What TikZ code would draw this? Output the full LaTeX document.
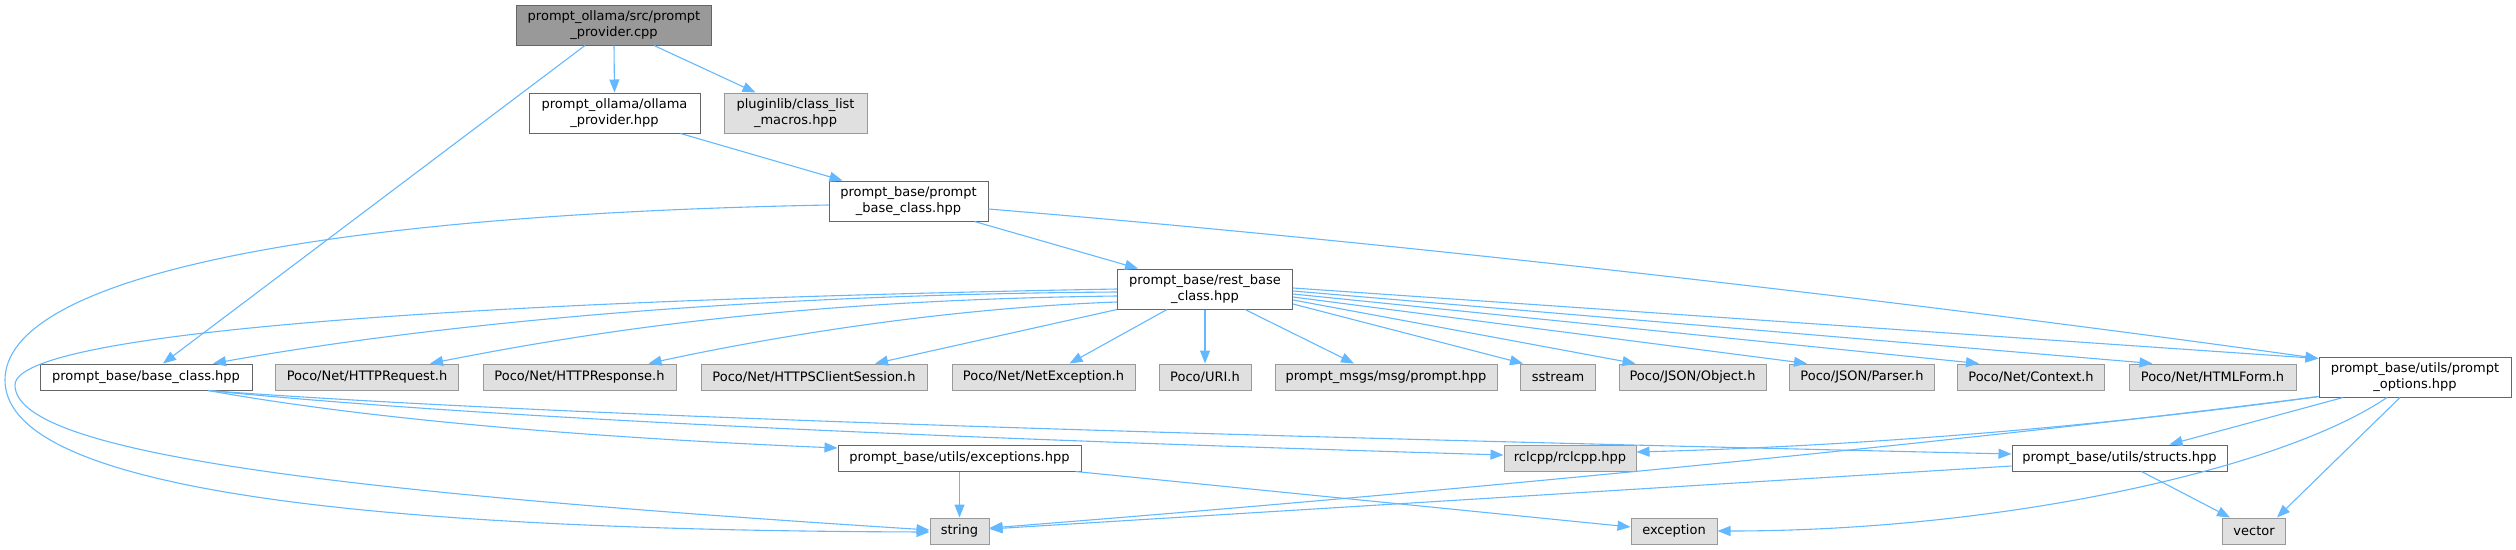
\documentclass[tikz,border=0pt]{standalone}
\usepackage{fontspec}
\setmainfont{DejaVu Sans}
\usetikzlibrary{arrows.meta}
\definecolor{edgecol}{HTML}{63B8FF}
\definecolor{grayfill}{HTML}{E0E0E0}
\definecolor{graybd}{HTML}{999999}
\definecolor{darkbd}{HTML}{666666}
\definecolor{topfill}{HTML}{999999}
\tikzset{
  box/.style={draw=darkbd, fill=white, line width=1pt, inner sep=0pt, align=center,
    font=\fontsize{13}{16}\selectfont, text=black},
  sys/.style={box, draw=graybd, fill=grayfill},
  root/.style={box, fill=topfill},
  edge/.style={draw=edgecol, line width=1.1pt, -{Triangle[length=13pt,width=10pt]}}
}
\begin{document}
\begin{tikzpicture}[x=1pt,y=-1pt]
\useasboundingbox (0,0) rectangle (2516,549);
% nodes
\node[root, minimum width=195pt, minimum height=40pt] (top) at (614,25) {prompt\_ollama/src/prompt\\\_provider.cpp};
\node[box, minimum width=171pt, minimum height=40pt] (oll) at (614.5,113) {prompt\_ollama/ollama\\\_provider.hpp};
\node[sys, minimum width=143pt, minimum height=40pt] (plug) at (795.5,113) {pluginlib/class\_list\\\_macros.hpp};
\node[box, minimum width=159pt, minimum height=40pt] (pbc) at (908.5,201) {prompt\_base/prompt\\\_base\_class.hpp};
\node[box, minimum width=175pt, minimum height=40pt] (rbc) at (1205,289) {prompt\_base/rest\_base\\\_class.hpp};
\node[box, minimum width=212pt, minimum height=26pt] (bch) at (146,377) {prompt\_base/base\_class.hpp};
\node[sys, minimum width=183pt, minimum height=26pt] (req) at (367,377) {Poco/Net/HTTPRequest.h};
\node[sys, minimum width=193pt, minimum height=26pt] (resp) at (579.5,377) {Poco/Net/HTTPResponse.h};
\node[sys, minimum width=226pt, minimum height=26pt] (https) at (814,377) {Poco/Net/HTTPSClientSession.h};
\node[sys, minimum width=183pt, minimum height=26pt] (netex) at (1043.5,377) {Poco/Net/NetException.h};
\node[sys, minimum width=92pt, minimum height=26pt] (uri) at (1205,377) {Poco/URI.h};
\node[sys, minimum width=222pt, minimum height=26pt] (msg) at (1386,377) {prompt\_msgs/msg/prompt.hpp};
\node[sys, minimum width=75pt, minimum height=26pt] (sstream) at (1558,377) {sstream};
\node[sys, minimum width=147pt, minimum height=26pt] (obj) at (1692.5,377) {Poco/JSON/Object.h};
\node[sys, minimum width=145pt, minimum height=26pt] (parser) at (1862,377) {Poco/JSON/Parser.h};
\node[sys, minimum width=147pt, minimum height=26pt] (ctx) at (2031,377) {Poco/Net/Context.h};
\node[sys, minimum width=167pt, minimum height=26pt] (form) at (2212.5,377) {Poco/Net/HTMLForm.h};
\node[box, minimum width=192pt, minimum height=40pt] (opt) at (2415,377) {prompt\_base/utils/prompt\\\_options.hpp};
\node[box, minimum width=243pt, minimum height=26pt] (exc) at (959.5,458) {prompt\_base/utils/exceptions.hpp};
\node[sys, minimum width=132pt, minimum height=26pt] (rcl) at (1570,458) {rclcpp/rclcpp.hpp};
\node[box, minimum width=215pt, minimum height=26pt] (str) at (2119.5,458) {prompt\_base/utils/structs.hpp};
\node[sys, minimum width=59pt, minimum height=26pt] (string) at (959.5,531) {string};
\node[sys, minimum width=86pt, minimum height=26pt] (exception) at (1674,531) {exception};
\node[sys, minimum width=63pt, minimum height=26pt] (vector) at (2254,531) {vector};
% edges
\draw[edge] (top.south) -- (oll.north);
\draw[edge] ([xshift=40pt]top.south) -- ([xshift=-40pt]plug.north);
\draw[edge] ([xshift=-29pt]top.south) -- ([xshift=17pt]bch.north);
\draw[edge] ([xshift=66pt]oll.south) -- ([xshift=-66pt]pbc.north);
\draw[edge] ([xshift=66pt]pbc.south) -- ([xshift=-67pt]rbc.north);
\draw[edge] ([yshift=-8pt]pbc.east) .. controls (1400,243) and (1900,300) .. ([yshift=-2pt]opt.north west);
\draw[edge] ([yshift=-4pt]pbc.west) .. controls (300,215) and (5,280) .. (5,380) .. controls (5,480) and (300,530) .. ([yshift=-1pt]string.west);
\draw[edge] (rbc.west) .. controls (500,300) and (15,330) .. (15,385) .. controls (15,450) and (300,490) .. ([yshift=1pt]string.west);
\draw[edge] ([yshift=-3pt]rbc.west) .. controls (700,295) and (400,330) .. ([xshift=67pt]bch.north);
\draw[edge] ([yshift=-7pt]rbc.west) .. controls (800,300) and (600,330) .. ([xshift=63pt]req.north);
\draw[edge] ([yshift=-13pt]rbc.west) .. controls (950,308) and (780,335) .. ([xshift=69pt]resp.north);
\draw[edge] (rbc.south west) -- ([xshift=61pt]https.north);
\draw[edge] ([xshift=-38pt]rbc.south) -- ([xshift=26pt]netex.north);
\draw[edge] (rbc.south) -- (uri.north);
\draw[edge] ([xshift=40pt]rbc.south) -- ([xshift=-32pt]msg.north);
\draw[edge] ([yshift=-15pt]rbc.east) -- ([xshift=-35pt]sstream.north);
\draw[edge] ([yshift=-11pt]rbc.east) -- ([xshift=-57pt]obj.north);
\draw[edge] ([yshift=-8pt]rbc.east) -- ([xshift=-55pt]parser.north);
\draw[edge] ([yshift=-5pt]rbc.east) -- ([xshift=-52pt]ctx.north);
\draw[edge] ([yshift=-2pt]rbc.east) -- ([xshift=-60pt]form.north);
\draw[edge] ([yshift=1pt]rbc.east) -- ([yshift=-2pt]opt.north west);
\draw[edge] ([xshift=62pt]bch.south) .. controls (400,425) and (650,440) .. ([yshift=10pt]exc.west);
\draw[edge] ([xshift=62pt]bch.south) .. controls (500,420) and (1000,440) .. ([yshift=3pt]rcl.west);
\draw[edge] ([xshift=62pt]bch.south) .. controls (600,420) and (1400,440) .. ([yshift=4pt]str.west);
\draw[edge] ([yshift=1pt]opt.south west) .. controls (2150,420) and (1900,445) .. ([yshift=6pt]rcl.east);
\draw[edge] ([yshift=1pt]opt.south west) .. controls (2100,425) and (1600,480) .. ([yshift=3pt]string.east);
\draw[edge] ([xshift=-72pt]opt.south) -- ([xshift=50pt]str.north);
\draw[edge] ([xshift=-28pt]opt.south) .. controls (2280,470) and (2000,531) .. (exception.east);
\draw[edge] ([xshift=-15pt]opt.south) -- ([xshift=23pt]vector.north);
\draw[edge] ([xshift=22pt]str.south) -- ([xshift=-24pt]vector.north);
\draw[edge] ([yshift=-8pt]str.west) -- ([yshift=2pt]string.east);
\draw[edge] (exc.south) -- (string.north);
\draw[edge] ([xshift=116pt]exc.south) -- ([yshift=4pt]exception.west);
\end{tikzpicture}
\end{document}
